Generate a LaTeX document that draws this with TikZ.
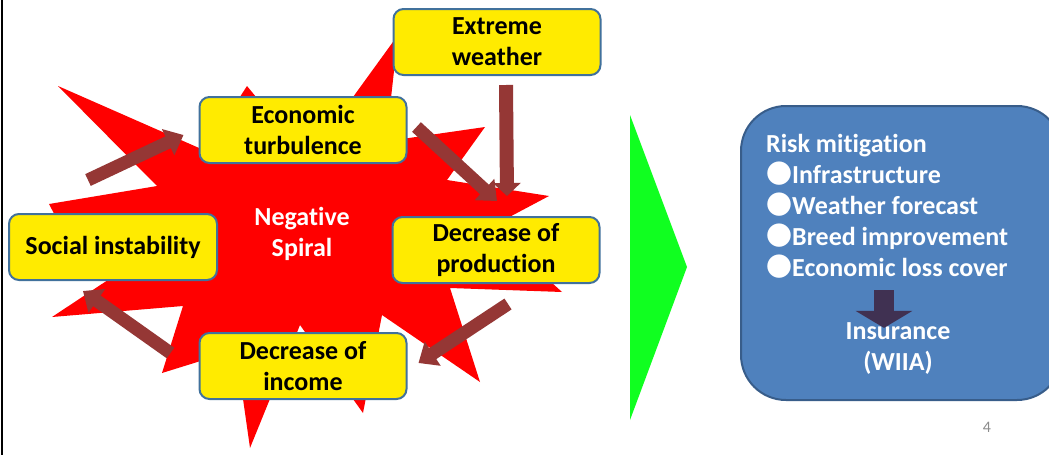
\documentclass[tikz,border=0pt]{standalone}
\usepackage{fontspec}
\setmainfont{Carlito}[RawFeature=-liga]
\newfontfamily\bulletfont{Noto Sans CJK JP}
\usetikzlibrary{arrows.meta}
\definecolor{boxyellow}{RGB}{255,235,0}
\definecolor{boxedge}{RGB}{65,113,156}
\definecolor{starred}{RGB}{255,0,0}
\definecolor{arrowred}{RGB}{149,55,53}
\definecolor{arrowgreen}{RGB}{16,255,32}
\definecolor{riskblue}{RGB}{79,129,189}
\definecolor{riskedge}{RGB}{56,93,138}
\definecolor{dropviolet}{RGB}{64,49,82}
\definecolor{pagegray}{RGB}{140,140,140}

\begin{document}
\begin{tikzpicture}[x=1pt, y=-1pt, every node/.style={font=\bfseries\fontsize{26}{31}\selectfont, inner sep=0pt},
    causebox/.style={draw=boxedge, line width=2pt, fill=boxyellow, rounded corners=10pt, minimum width=207pt, minimum height=66pt, align=center},
    flowarrow/.style={draw=arrowred, line width=13pt, -{Triangle[length=17pt,width=28pt]}},
    riskbox/.style={draw=riskedge, line width=2pt, fill=riskblue, rounded corners=45pt}]
    \useasboundingbox (0,0) rectangle (1049,455);
    \fill[white] (0,0) rectangle (1049,455);
    \draw[black, line width=2.5pt] (2,0) -- (2,455);

    \fill[starred] (49,204) -- (157,186) -- (58,86) -- (215,155) -- (225,120) -- (247,86) -- (275,120) -- (340,115) -- (398,35) -- (388,125) -- (395,140) -- (485,127) -- (447,180) -- (549,196) -- (500,222) -- (540,272) -- (562,292) -- (450,288) -- (480,382) -- (382,315) -- (363,413) -- (300,325) -- (250,448) -- (236,350) -- (162,373) -- (183,306) -- (52,317) -- (120,272) -- (60,225) -- cycle;

    \node[causebox] (weather) at (497,42) {Extreme\\weather};
    \node[causebox] (econ) at (303,130) {Economic\\turbulence};
    \node[causebox, minimum width=208pt] (social) at (113,247) {Social instability};
    \node[causebox] (prod) at (496,250) {Decrease of\\production};
    \node[causebox] (income) at (303,366) {Decrease of\\income};
    \node[text=white, align=center] (spiral) at (302,234) {Negative\\Spiral};

    \draw[flowarrow] ([shift={(-25,-33)}]social.north) -- ([shift={(-15,5)}]econ.west);
    \draw[flowarrow] ([shift={(9,-3)}]econ.east) -- ([shift={(1,-15)}]prod.north);
    \draw[flowarrow, line width=14pt, -{Triangle[length=13pt,width=27pt]}] ([shift={(9,9)}]weather.south) -- ([shift={(11,-20)}]prod.north);
    \draw[flowarrow] ([shift={(12,20)}]prod.south) -- ([shift={(11,-3)}]income.east);
    \draw[flowarrow] ([shift={(-28,-13)}]income.west) -- ([shift={(-30,10)}]social.south);

    \fill[arrowgreen] (630,115) -- (687,267) -- (630,420) -- cycle;

    \node[riskbox, minimum width=321pt, minimum height=294pt] (risk) at (901.5,253) {};
    \node[text=white, align=left, anchor=north west] (measures) at (766,134) {Risk mitigation\\{\bulletfont ●}Infrastructure\\{\bulletfont ●}Weather forecast\\{\bulletfont ●}Breed improvement\\{\bulletfont ●}Economic loss cover};
    \node[text=white, align=center] (insure) at (898,349) {Insurance\\(WIIA)};
    \path (measures.south -| insure.north) coordinate (drop);
    \draw[draw=dropviolet, line width=20pt, -{Triangle[length=17pt,width=56pt]}] ([shift={(-14,12)}]drop) -- ([shift={(-14,5)}]insure.north);
    \node[font=\fontsize{16}{16}\selectfont, text=pagegray] (pagenum) at (987,427) {4};
\end{tikzpicture}
\end{document}
